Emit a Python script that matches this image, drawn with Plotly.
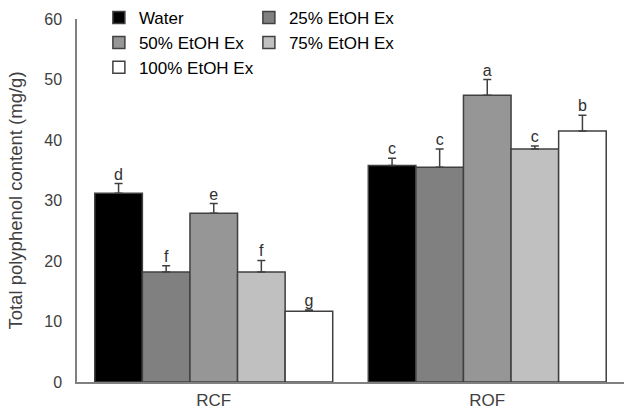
import plotly.graph_objects as go

categories = ["RCF", "ROF"]
series_names = ["Water", "25% EtOH Ex", "50% EtOH Ex", "75% EtOH Ex", "100% EtOH Ex"]
values = {
    "Water": [31.2, 35.8],
    "25% EtOH Ex": [18.2, 35.5],
    "50% EtOH Ex": [27.9, 47.4],
    "75% EtOH Ex": [18.2, 38.5],
    "100% EtOH Ex": [11.7, 41.5],
}
errors = {
    "Water": [1.6, 1.2],
    "25% EtOH Ex": [1.0, 3.0],
    "50% EtOH Ex": [1.6, 2.6],
    "75% EtOH Ex": [1.9, 0.5],
    "100% EtOH Ex": [0.2, 2.6],
}
letters = {
    "Water": ["d", "c"],
    "25% EtOH Ex": ["f", "c"],
    "50% EtOH Ex": ["e", "a"],
    "75% EtOH Ex": ["f", "c"],
    "100% EtOH Ex": ["g", "b"],
}
colors = ["#000000", "#808080", "#969696", "#c0c0c0", "#ffffff"]
legend_ids = ["legend", "legend", "legend2", "legend2", "legend3"]

FONT = "Liberation Sans, Arial, sans-serif"
DARK = "#404040"

fig = go.Figure()
for i, name in enumerate(series_names):
    fig.add_trace(go.Bar(
        x=categories, y=values[name], name=name,
        marker=dict(color=colors[i], line=dict(color=DARK, width=1.5)),
        error_y=dict(type="data", symmetric=False, array=errors[name],
                     arrayminus=[0] * len(categories),
                     color=DARK, thickness=1.5, width=4),
        offsetgroup=str(i), legend=legend_ids[i],
    ))
for i, name in enumerate(series_names):
    fig.add_trace(go.Scatter(
        x=categories,
        y=[v + e for v, e in zip(values[name], errors[name])],
        text=letters[name], mode="text", textposition="top center",
        textfont=dict(family=FONT, size=16, color="#303030"),
        offsetgroup=str(i), showlegend=False, hoverinfo="skip", cliponaxis=False,
    ))

legend_common = dict(orientation="h", bgcolor="rgba(0,0,0,0)",
                     font=dict(family=FONT, size=17, color="#000000"),
                     xanchor="left", yanchor="middle",
                     itemwidth=30, tracegroupgap=0)

fig.update_layout(
    width=624, height=409,
    margin=dict(l=77, r=0, t=16, b=27),
    paper_bgcolor="white", plot_bgcolor="white",
    barmode="group", bargap=0.13, bargroupgap=0,
    scattermode="group", scattergap=0.13,
    font=dict(family=FONT, size=16, color=DARK),
    legend=dict(x=0.040, y=1.003, entrywidth=105, **legend_common),
    legend2=dict(x=0.040, y=0.934, entrywidth=105, **legend_common),
    legend3=dict(x=0.040, y=0.866, entrywidth=140, **legend_common),
    xaxis=dict(showline=True, linecolor="#808080", linewidth=1.5, ticks="",
               automargin=False,
               tickfont=dict(family=FONT, size=17, color=DARK), ticklabelstandoff=2),
    yaxis=dict(range=[0, 60], dtick=10, showgrid=False, zeroline=False,
               automargin=False,
               showline=True, linecolor="#808080", linewidth=1.5, ticks="",
               tickfont=dict(family=FONT, size=16, color=DARK), ticklabelstandoff=10,
               title=dict(text="Total polyphenol content (mg/g)", standoff=17,
                          font=dict(family=FONT, size=18.5, color=DARK))),
)

fig.write_html("out.html")
